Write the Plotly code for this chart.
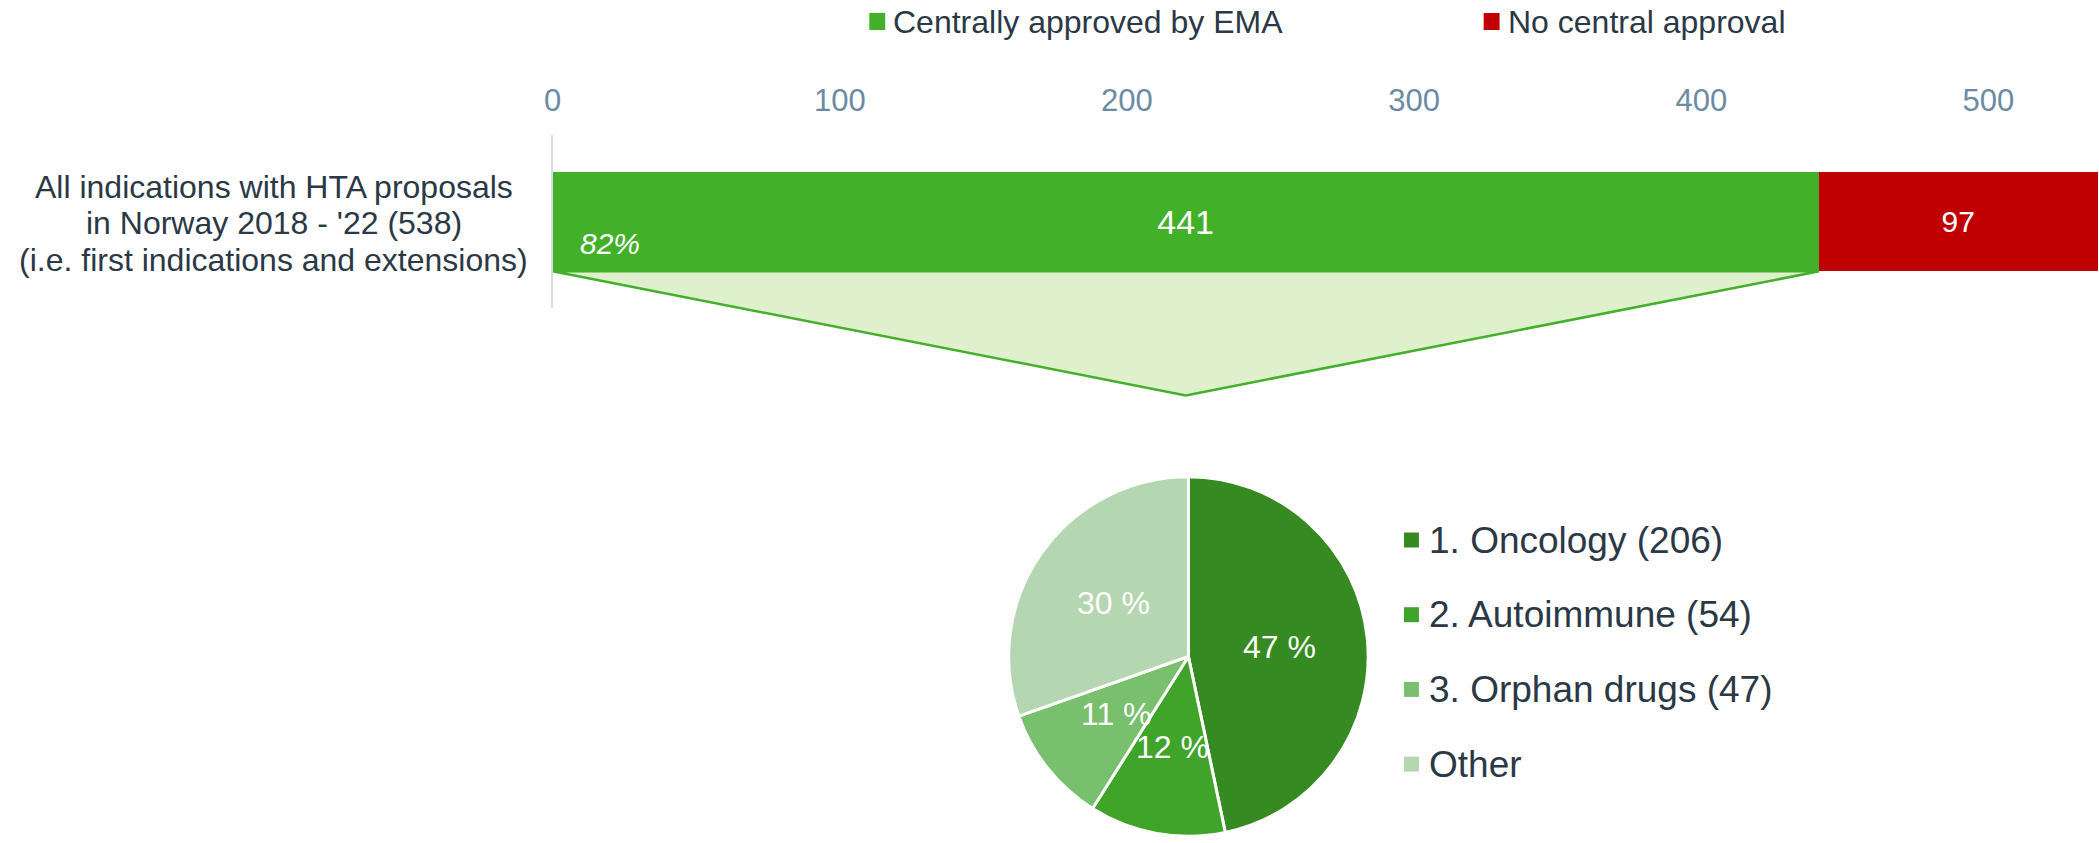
import math
import plotly.graph_objects as go

# ---- data -------------------------------------------------------------
label_lines = [
    "All indications with HTA proposals",
    "in Norway 2018 - '22 (538)",
    "(i.e. first indications and extensions)",
]
category = "All indications"
series_names = ["Centrally approved by EMA", "No central approval"]
series_values = [441, 97]
series_colors = ["#43b02a", "#c00000"]

area_labels = ["1. Oncology (206)", "2. Autoimmune (54)", "3. Orphan drugs (47)", "Other"]
area_values = [206, 54, 47, 134]
area_colors = ["#368a22", "#40a32a", "#78bf6e", "#b4d6b0"]

axis_ticks = [0, 100, 200, 300, 400, 500]

# ---- layout constants ---------------------------------------------------
W, H = 2099, 843
FONT = "Liberation Sans, Arial, sans-serif"
DARK = "#2b3845"
TICK = "#6b8ba4"
BAR_W = 0.576

x_dom = [546 / W, 1.0]
y_dom = [1 - 308 / H, 1 - 135 / H]

total = sum(series_values)
approved = series_values[0]

fig = go.Figure()

# stacked horizontal bar
text_sizes = [34, 30]
for name, val, col, ts in zip(series_names, series_values, series_colors, text_sizes):
    fig.add_trace(go.Bar(
        name=name, x=[val], y=[category], orientation="h",
        marker=dict(color=col, line=dict(width=0)),
        width=BAR_W,
        text=[str(val)], textposition="inside", insidetextanchor="middle",
        textfont=dict(color="white", size=ts, family=FONT),
        showlegend=False, hoverinfo="x+name",
    ))

# breakdown pie of the approved share
cx, cy, r = 1184.5, 656.5, 180.5
fig.add_trace(go.Pie(
    labels=area_labels, values=area_values, sort=False,
    direction="clockwise", rotation=0,
    marker=dict(colors=area_colors, line=dict(color="white", width=3)),
    textinfo="none",
    domain=dict(x=[(cx - r) / W, (cx + r) / W], y=[(H - cy - r) / H, (H - cy + r) / H]),
    showlegend=False,
))

shapes = []
annotations = []

# percentage labels placed halfway out along each slice's bisector
pie_total = sum(area_values)
cum = 0
for v in area_values:
    theta = 2 * math.pi * (cum + v / 2) / pie_total
    cum += v
    px = cx + 0.51 * r * math.sin(theta)
    py = cy - 0.51 * r * math.cos(theta)
    annotations.append(dict(
        text=f"{round(v / pie_total * 100)} %", xref="paper", yref="paper",
        x=px / W, y=1 - py / H, xanchor="center", yanchor="middle", showarrow=False,
        font=dict(size=32, color="white", family=FONT),
    ))

# funnel from the approved bar segment down to the pie
top = 0.5 - BAR_W / 2
apex = -0.505
shapes.append(dict(
    type="path", xref="x", yref="y domain", layer="below",
    path=f"M 0,{top} L {approved},{top} L {approved / 2},{apex} Z",
    fillcolor="#dff0cc", line=dict(color="#43b02a", width=2.5),
))

# category label
for i, line in enumerate(label_lines):
    annotations.append(dict(
        text=line, xref="paper", yref="paper", x=266 / W, y=1 - (187 + 36.5 * i) / H,
        xanchor="center", yanchor="middle", showarrow=False,
        font=dict(size=32, color=DARK, family=FONT),
    ))

# share of approved indications
annotations.append(dict(
    text=f"<i>{round(approved / total * 100)}%</i>", xref="x", yref="paper",
    x=0, xshift=25, y=1 - 244 / H, xanchor="left", yanchor="middle", showarrow=False,
    font=dict(size=30, color="white", family=FONT),
))

# top legend
for name, col, sx in zip(series_names, series_colors, [864, 1481]):
    shapes.append(dict(type="rect", xref="paper", yref="paper",
                       x0=sx / W, x1=(sx + 16) / W, y0=1 - 30 / H, y1=1 - 13 / H,
                       fillcolor=col, line=dict(width=0)))
    annotations.append(dict(
        text=name, xref="paper", yref="paper", x=(sx + 22) / W, y=1 - 22 / H,
        xanchor="left", yanchor="middle", showarrow=False,
        font=dict(size=32, color=DARK, family=FONT),
    ))

# pie legend
for i, (lab, col) in enumerate(zip(area_labels, area_colors)):
    yc = 540 + 74.7 * i
    shapes.append(dict(type="rect", xref="paper", yref="paper",
                       x0=1401 / W, x1=1416 / W, y0=1 - (yc + 7.5) / H, y1=1 - (yc - 7.5) / H,
                       fillcolor=col, line=dict(width=0)))
    annotations.append(dict(
        text=lab, xref="paper", yref="paper", x=1424 / W, y=1 - yc / H,
        xanchor="left", yanchor="middle", showarrow=False,
        font=dict(size=37, color=DARK, family=FONT),
    ))

fig.update_layout(
    width=W, height=H,
    margin=dict(l=0, r=0, t=0, b=0, pad=0),
    paper_bgcolor="white", plot_bgcolor="white",
    barmode="stack", bargap=0,
    font=dict(family=FONT, color=DARK),
    xaxis=dict(
        domain=x_dom, range=[0, 538.5], side="top",
        tickvals=axis_ticks, ticks="", showgrid=False, zeroline=False, showline=False,
        tickfont=dict(size=31, color=TICK, family=FONT), ticklabelstandoff=17,
        fixedrange=True,
    ),
    yaxis=dict(
        domain=y_dom, type="category", range=[-0.5, 0.5],
        showticklabels=False, showgrid=False, zeroline=False,
        showline=True, linecolor="#d9dde3", linewidth=2, ticks="",
        fixedrange=True,
    ),
    shapes=shapes, annotations=annotations,
)

fig.write_html("out.html")
